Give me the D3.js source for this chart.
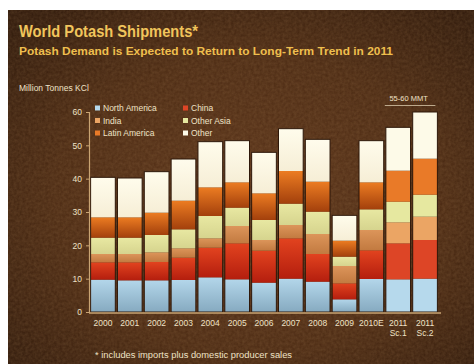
<!DOCTYPE html>
<html>
<head>
<meta charset="utf-8">
<script src="https://cdn.jsdelivr.net/npm/d3@7"></script>
<style>
  html, body { margin: 0; padding: 0; background: #ffffff; }
  svg { display: block; }
  text { font-family: "Liberation Sans", Arial, sans-serif; }
</style>
</head>
<body>
<svg id="chart" width="474" height="364"></svg>
<script>
// Shipments by region, million tonnes KCl
const years = ["2000", "2001", "2002", "2003", "2004", "2005", "2006", "2007", "2008", "2009", "2010E", "2011 Sc.1", "2011 Sc.2"];
const northAmerica = [9.7, 9.5, 9.5, 9.6, 10.4, 9.8, 8.8, 10.0, 9.1, 3.8, 9.9, 9.8, 10.0];
const china        = [5.2, 5.4, 5.5, 6.7, 8.9, 10.8, 9.6, 12.1, 8.3, 4.8, 8.6, 10.8, 11.6];
const india        = [2.5, 2.5, 2.9, 2.8, 2.8, 5.2, 3.2, 4.0, 6.0, 5.2, 6.1, 6.3, 7.0];
const otherAsia    = [4.9, 4.9, 5.2, 5.7, 6.7, 5.5, 6.0, 6.4, 6.7, 2.8, 6.2, 6.2, 6.6];
const latinAmerica = [6.1, 6.1, 6.7, 8.6, 8.6, 7.6, 8.0, 9.8, 9.0, 4.8, 8.1, 9.3, 10.8];
const other        = [12.0, 11.8, 12.3, 12.5, 13.7, 12.5, 12.3, 12.7, 12.7, 7.6, 12.5, 13.0, 14.0];
const forecastYears = ["2011 Sc.1", "2011 Sc.2"];
const yTicks = [0, 10, 20, 30, 40, 50, 60];

const seriesNames = ["North America", "China", "India", "Other Asia", "Latin America", "Other"];
const seriesKeys = ["na", "cn", "in", "oa", "la", "ot"];
const seriesValues = [northAmerica, china, india, otherAsia, latinAmerica, other];
// top / bottom colours of each segment's shading, plus a flat colour for forecast bars
const seriesColors = {
  na: { top: "#b3d6ea", bottom: "#86aac0", flat: "#b6d9ec" },
  cn: { top: "#e2431f", bottom: "#b41e0e", flat: "#dd4526" },
  in: { top: "#dc955a", bottom: "#c27a40", flat: "#eba564" },
  oa: { top: "#e8e8a2", bottom: "#d6d48e", flat: "#e6e8a0" },
  la: { top: "#ec7c22", bottom: "#a3400c", flat: "#e97a28" },
  ot: { top: "#fffcec", bottom: "#f6eed6", flat: "#fdfae8" }
};

const table = years.map((y, i) => {
  const row = { year: y };
  seriesKeys.forEach((k, j) => row[k] = seriesValues[j][i]);
  return row;
});

const svg = d3.select("#chart");
const defs = svg.append("defs");

// Background: dark brown slate with a grainy texture
const bg = defs.append("radialGradient").attr("id", "bgGrad")
  .attr("cx", "52%").attr("cy", "55%").attr("r", "70%");
bg.append("stop").attr("offset", "0%").attr("stop-color", "#5a3319");
bg.append("stop").attr("offset", "60%").attr("stop-color", "#4a2912");
bg.append("stop").attr("offset", "100%").attr("stop-color", "#2e180a");

const grain = defs.append("filter").attr("id", "grain")
  .attr("x", 0).attr("y", 0).attr("width", "100%").attr("height", "100%");
grain.append("feTurbulence").attr("type", "fractalNoise")
  .attr("baseFrequency", "0.35").attr("numOctaves", 2).attr("seed", 7).attr("result", "noise");
grain.append("feColorMatrix").attr("in", "noise").attr("type", "matrix")
  .attr("values", "0 0 0 0 0.55  0 0 0 0 0.32  0 0 0 0 0.14  0 0 0 0.22 0");
grain.append("feComposite").attr("in2", "SourceGraphic").attr("operator", "in");

seriesKeys.forEach(k => {
  const g = defs.append("linearGradient").attr("id", "grad-" + k)
    .attr("x1", 0).attr("y1", 0).attr("x2", 0).attr("y2", 1);
  g.append("stop").attr("offset", "0%").attr("stop-color", seriesColors[k].top);
  g.append("stop").attr("offset", "100%").attr("stop-color", seriesColors[k].bottom);
});

svg.append("rect").attr("x", 8).attr("y", 10).attr("width", 466).attr("height", 354)
  .attr("fill", "url(#bgGrad)");
svg.append("rect").attr("x", 8).attr("y", 10).attr("width", 466).attr("height", 354)
  .attr("fill", "#000").attr("filter", "url(#grain)");

// Titles
svg.append("text").attr("x", 19).attr("y", 37)
  .attr("font-size", 16).attr("font-weight", "bold").attr("fill", "#f1c55c")
  .attr("textLength", 179).attr("lengthAdjust", "spacingAndGlyphs")
  .text("World Potash Shipments*");
svg.append("text").attr("x", 19).attr("y", 55)
  .attr("font-size", 10.5).attr("font-weight", "bold").attr("fill", "#efbf4e")
  .attr("textLength", 374).attr("lengthAdjust", "spacingAndGlyphs")
  .text("Potash Demand is Expected to Return to Long-Term Trend in 2011");
svg.append("text").attr("x", 19).attr("y", 91)
  .attr("font-size", 8.5).attr("fill", "#efe2c6")
  .text("Million Tonnes KCl");

// Scales
const x = d3.scaleBand().domain(years).range([89, 439]).paddingInner(0.08).paddingOuter(0.06);
const y = d3.scaleLinear().domain([0, 60]).range([312, 112]);

// Stacked bars
const stack = d3.stack().keys(seriesKeys);
const layers = stack(table);

const layerG = svg.append("g").selectAll("g").data(layers).join("g");
layerG.selectAll("rect")
  .data(d => d.map(p => ({ key: d.key, p })))
  .join("rect")
  .attr("x", d => x(d.p.data.year))
  .attr("width", x.bandwidth())
  .attr("y", d => y(d.p[1]))
  .attr("height", d => y(d.p[0]) - y(d.p[1]))
  .attr("fill", d => forecastYears.includes(d.p.data.year)
    ? seriesColors[d.key].flat : "url(#grad-" + d.key + ")");

// Dark outline around each whole bar
svg.append("g").selectAll("rect").data(table).join("rect")
  .attr("x", d => x(d.year))
  .attr("width", x.bandwidth())
  .attr("y", d => y(d3.sum(seriesKeys, k => d[k])))
  .attr("height", d => y(0) - y(d3.sum(seriesKeys, k => d[k])))
  .attr("fill", "none").attr("stroke", "#2e180a").attr("stroke-width", 1);

// Y axis
const yAxis = svg.append("g").attr("transform", "translate(89,0)")
  .call(d3.axisLeft(y).tickValues(yTicks).tickSize(3).tickPadding(4));
yAxis.select(".domain").attr("stroke", "#c9a473").attr("stroke-width", 1.2);
yAxis.selectAll(".tick line").attr("stroke", "#c9a473");
yAxis.selectAll(".tick text").attr("fill", "#efe2c6").attr("font-size", 8.5)
  .attr("font-family", "Liberation Sans, Arial, sans-serif");

// X axis
const xAxis = svg.append("g").attr("transform", "translate(0,313)")
  .call(d3.axisBottom(x).tickSize(0).tickPadding(7));
xAxis.select(".domain").attr("stroke", "#c9a473").attr("stroke-width", 1.5)
  .attr("d", "M89,0H441");
xAxis.selectAll(".tick text")
  .attr("fill", "#efe2c6").attr("font-size", 8.5)
  .attr("font-family", "Liberation Sans, Arial, sans-serif")
  .each(function(d) {
    const parts = d.split(" ");
    const t = d3.select(this).text(null);
    parts.forEach((s, i) => {
      t.append("tspan").attr("x", 0).attr("dy", i === 0 ? "0.71em" : "1.2em").text(s);
    });
  });

// Legend
const legend = svg.append("g");
seriesNames.forEach((name, i) => {
  const col = i % 2, row = Math.floor(i / 2);
  const lx = col === 0 ? 95 : 183, ly = 108 + row * 12.5;
  legend.append("rect").attr("x", lx).attr("y", ly - 2.5).attr("width", 5).attr("height", 5)
    .attr("fill", seriesColors[seriesKeys[i]].flat);
  legend.append("text").attr("x", lx + 8).attr("y", ly + 3)
    .attr("font-size", 8.5).attr("fill", "#efe2c6").text(name);
});

// Forecast range annotation over the 2011 scenarios
const xa = x(forecastYears[0]), xb = x(forecastYears[1]) + x.bandwidth();
svg.append("line").attr("x1", xa - 1).attr("x2", xb - 2).attr("y1", 105.5).attr("y2", 105.5)
  .attr("stroke", "#d8c8aa").attr("stroke-width", 0.8);
svg.append("text").attr("x", (xa + xb) / 2 - 3).attr("y", 101)
  .attr("text-anchor", "middle").attr("font-size", 7.5).attr("fill", "#efe2c6")
  .text("55-60 MMT");

// Footnote
svg.append("text").attr("x", 95).attr("y", 358)
  .attr("font-size", 8.5).attr("fill", "#efe2c6")
  .attr("textLength", 197).attr("lengthAdjust", "spacingAndGlyphs")
  .text("* includes imports plus domestic producer sales");
</script>
</body>
</html>
